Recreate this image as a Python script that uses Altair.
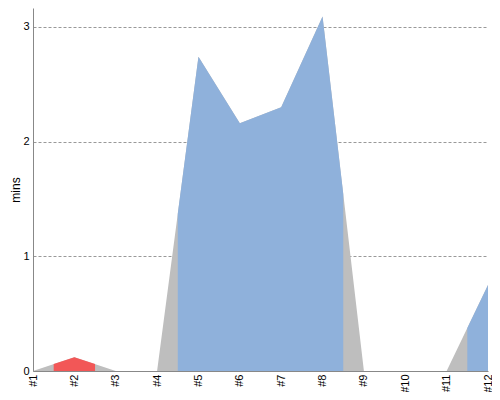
import altair as alt
import pandas as pd

builds = list(range(1, 13))
labels = ["#" + str(b) for b in builds]
values = [0, 0.12, 0, 0, 2.74, 2.16, 2.30, 3.09, 0, 0, 0, 0.75]
status = ["none", "failed", "none", "none", "passed", "passed", "passed", "passed",
          "none", "none", "none", "passed"]

base_df = pd.DataFrame({"b": builds, "v": values})

# colored runs: consecutive builds with the same status, clipped half-way to neighbours
rows = []
n = len(builds)
seg = 0
i = 0
while i < n:
    if status[i] == "none":
        i += 1
        continue
    j = i
    while j + 1 < n and status[j + 1] == status[i]:
        j += 1
    if i > 0:
        rows.append({"seg": seg, "st": status[i], "b": builds[i] - 0.5,
                     "v": (values[i] + values[i - 1]) / 2})
    for k in range(i, j + 1):
        rows.append({"seg": seg, "st": status[i], "b": builds[k], "v": values[k]})
    if j < n - 1:
        rows.append({"seg": seg, "st": status[i], "b": builds[j] + 0.5,
                     "v": (values[j] + values[j + 1]) / 2})
    seg += 1
    i = j + 1
seg_df = pd.DataFrame(rows)

xscale = alt.Scale(domain=[1, 12], nice=False, zero=False)
yscale = alt.Scale(domain=[0, 3.165], nice=False)

xaxis = alt.Axis(values=builds, labelExpr="'#' + datum.value", labelAngle=270,
                 grid=False, ticks=False, labelPadding=3, title=None,
                 domainColor="#888888", labelColor="#000000", labelFontSize=11)
yaxis = alt.Axis(values=[0, 1, 2, 3], format="d", grid=True, gridDash=[3, 2],
                 gridColor="#999999", ticks=False, labelPadding=4, title="mins",
                 titleFontWeight="normal", titleFontSize=12, titleColor="#000000",
                 titlePadding=0, domainColor="#888888", labelColor="#000000",
                 labelFontSize=11)

gray = alt.Chart(base_df).mark_area(color="#bebebe", interpolate="linear").encode(
    x=alt.X("b:Q", scale=xscale, axis=xaxis),
    y=alt.Y("v:Q", scale=yscale, axis=yaxis),
)

colored = alt.Chart(seg_df).mark_area(opacity=1, interpolate="linear").encode(
    x=alt.X("b:Q", scale=xscale),
    y=alt.Y("v:Q", scale=yscale, stack=None),
    color=alt.Color("st:N", scale=alt.Scale(domain=["failed", "passed"],
                                            range=["#f25757", "#8fb1db"]), legend=None),
    detail="seg:N",
)

chart = alt.layer(gray, colored).properties(
    width=455, height=363,
    autosize=alt.AutoSizeParams(type="none"),
    padding={"left": 25, "top": 0, "right": 4, "bottom": 21},
).configure_view(stroke=None)

chart.save("out.html", embed_options={"renderer": "svg", "actions": False})
